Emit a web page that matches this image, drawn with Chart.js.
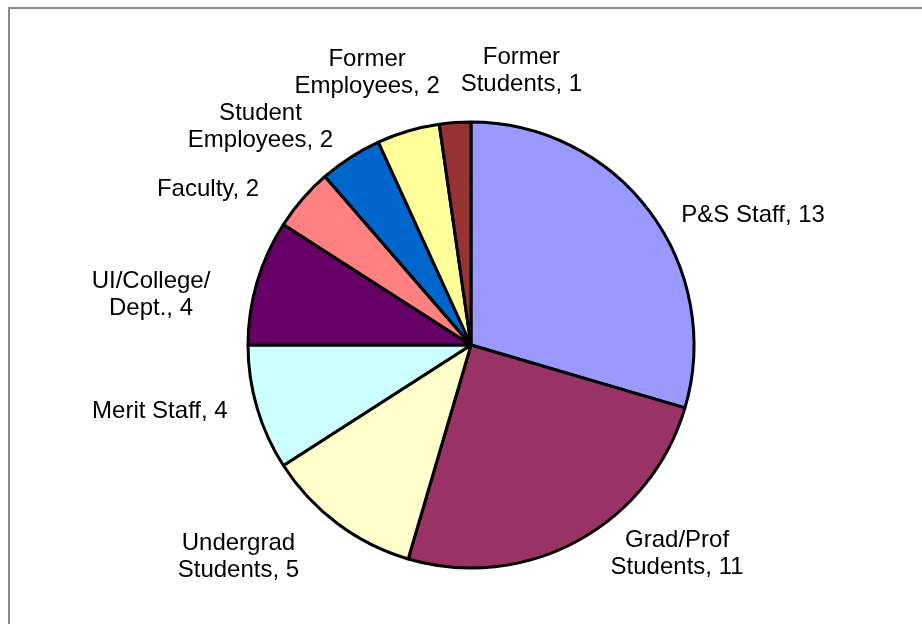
<!DOCTYPE html>
<html lang="en">
<head>
    <meta charset="UTF-8">
    <title>Respondents by Group</title>
    <script src="https://cdn.jsdelivr.net/npm/chart.js"></script>
    <style>
        html, body {
            margin: 0;
            padding: 0;
            background-color: #ffffff;
            overflow: hidden;
        }
        .chart-box {
            position: relative;
            width: 922px;
            height: 624px;
        }
        .frame {
            position: absolute;
            left: 8px;
            top: 7px;
            width: 1000px;
            height: 700px;
            border-left: 2px solid #8a8a8a;
            border-top: 2px solid #8a8a8a;
            pointer-events: none;
        }
    </style>
</head>
<body>
    <div class="chart-box">
        <canvas id="groupChart" width="922" height="624"></canvas>
        <div class="frame"></div>
    </div>

    <script>
        // Groups, clockwise from 12 o'clock (each entry is the label split into lines)
        const groups = [
            ['P&S Staff'],
            ['Grad/Prof', 'Students'],
            ['Undergrad', 'Students'],
            ['Merit Staff'],
            ['UI/College/', 'Dept.'],
            ['Faculty'],
            ['Student', 'Employees'],
            ['Former', 'Employees'],
            ['Former', 'Students']
        ];
        const counts = [13, 11, 5, 4, 4, 2, 2, 2, 1];
        const sliceColors = ['#9999FF', '#993366', '#FFFFCC', '#CCFFFF', '#660066',
                             '#FF8080', '#0066CC', '#FFFF99', '#993333'];

        // where each label sits, relative to the pie centre, in units of the radius
        const labelOffsets = [
            [1.265, -0.583], [0.924, 0.937], [-1.043, 0.951], [-1.395, 0.298], [-1.435, -0.226],
            [-1.179, -0.697], [-0.944, -0.980], [-0.466, -1.220], [0.226, -1.231]
        ];

        const outsideLabels = {
            id: 'outsideLabels',
            afterDatasetsDraw(chart) {
                const ctx = chart.ctx;
                const meta = chart.getDatasetMeta(0);
                const lineHeight = 27;
                ctx.save();
                ctx.font = '24px "Liberation Sans", Arial, sans-serif';
                ctx.fillStyle = '#000000';
                ctx.textAlign = 'center';
                ctx.textBaseline = 'middle';
                meta.data.forEach((arc, i) => {
                    const lines = groups[i].slice();
                    lines[lines.length - 1] += ', ' + chart.data.datasets[0].data[i];
                    const r = arc.outerRadius;
                    const cx = arc.x + labelOffsets[i][0] * r;
                    const cy = arc.y + labelOffsets[i][1] * r;
                    const top = cy - (lines.length - 1) * lineHeight / 2;
                    lines.forEach((line, j) => ctx.fillText(line, cx, top + j * lineHeight));
                });
                ctx.restore();
            }
        };

        new Chart(document.getElementById('groupChart'), {
            type: 'pie',
            data: {
                labels: groups,
                datasets: [{
                    data: counts,
                    backgroundColor: sliceColors,
                    borderColor: '#000000',
                    borderWidth: 3
                }]
            },
            options: {
                responsive: false,
                animation: false,
                radius: 223,
                layout: {
                    padding: { left: 20, top: 66, right: 0, bottom: 0 }
                },
                plugins: {
                    legend: { display: false },
                    tooltip: { enabled: false }
                }
            },
            plugins: [outsideLabels]
        });
    </script>
</body>
</html>
